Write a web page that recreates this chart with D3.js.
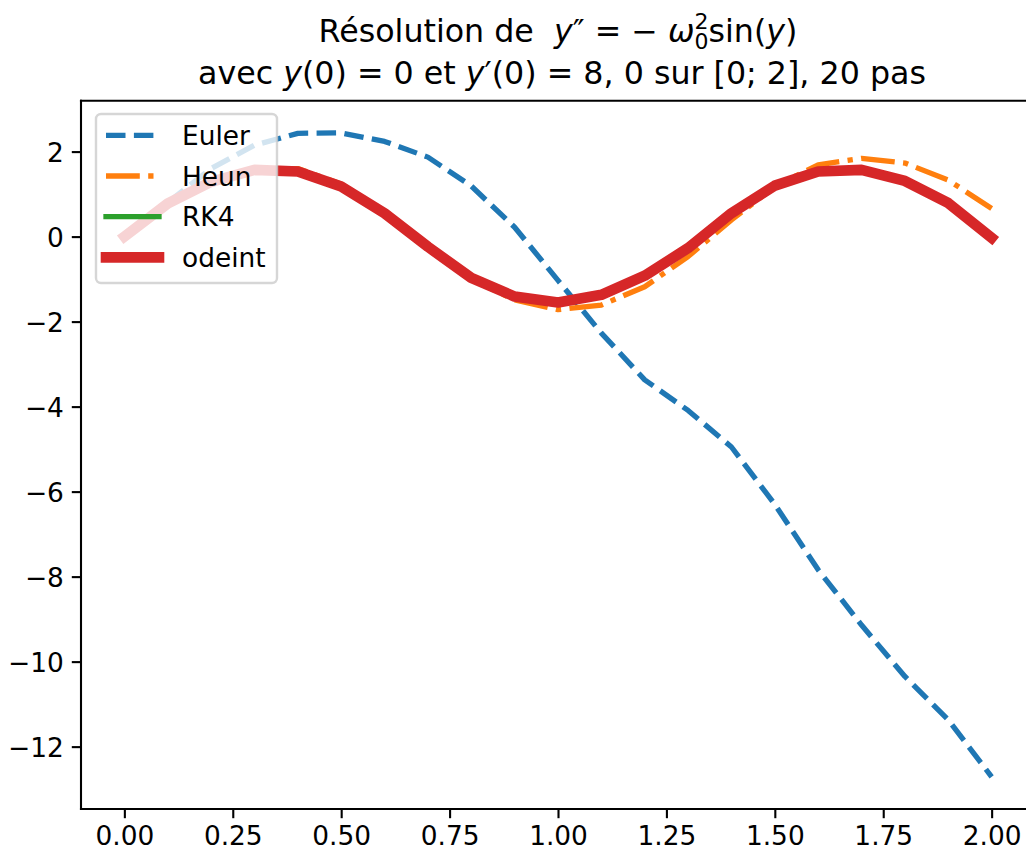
<!DOCTYPE html>
<html>
<head>
<meta charset="utf-8">
<script src="https://cdn.jsdelivr.net/npm/d3@7"></script>
<style>
  html, body { margin: 0; padding: 0; background: #fff; }
  svg { display: block; font-family: "DejaVu Sans", sans-serif; }
  .tick text { font-size: 26.4px; fill: #000; }
  .title { font-size: 31.7px; fill: #000; white-space: pre; }
  .it { font-style: italic; }
  .leg-text { font-size: 26.4px; fill: #000; }
</style>
</head>
<body>
<div id="chart"></div>
<script>
// Pendulum y'' = -w0^2 sin(y), 20 steps on [0; 2].
const tValues = [0, 0.1, 0.2, 0.3, 0.4, 0.5, 0.6, 0.7, 0.8, 0.9, 1.0,
  1.1, 1.2, 1.3, 1.4, 1.5, 1.6, 1.7, 1.8, 1.9, 2.0];
const eulerValues = [0, 0.8, 1.6, 2.15, 2.43, 2.44, 2.24, 1.87, 1.19, 0.22, -1.03,
  -2.27, -3.37, -4.09, -4.95, -6.3, -7.84, -9.14, -10.35, -11.37, -12.71];
const heunValues = [0, 0.8, 1.3, 1.58, 1.6, 1.24, 0.56, -0.25, -1.0, -1.49, -1.72,
  -1.61, -1.18, -0.47, 0.39, 1.18, 1.69, 1.84, 1.73, 1.33, 0.66];
const rk4Values = [0, 0.78, 1.29, 1.57, 1.53, 1.18, 0.55, -0.24, -0.97, -1.41, -1.55,
  -1.37, -0.92, -0.27, 0.55, 1.2, 1.53, 1.57, 1.31, 0.79, -0.03];
const odeintValues = [0, 0.78, 1.29, 1.57, 1.53, 1.18, 0.55, -0.24, -0.97, -1.41, -1.55,
  -1.37, -0.92, -0.27, 0.55, 1.2, 1.53, 1.57, 1.31, 0.79, -0.03];
const seriesNames = ["Euler", "Heun", "RK4", "odeint"];
const xTickValues = [0, 0.25, 0.5, 0.75, 1.0, 1.25, 1.5, 1.75, 2.0];
const yTickValues = [-12, -10, -8, -6, -4, -2, 0, 2];

const width = 1026, height = 856;
const m = { top: 100.7, left: 81, right: -9, bottom: 47 };
const iW = width - m.left - m.right, iH = height - m.top - m.bottom;

// matplotlib-style styling for each series (tab10 colours, px widths)
const styles = [
  { color: "#1f77b4", w: 5.3, dash: "19.5,8.4", cap: "butt" },
  { color: "#ff7f0e", w: 5.3, dash: "33.8,8.4,5.3,8.4", cap: "butt" },
  { color: "#2ca02c", w: 5.3, dash: null, cap: "square" },
  { color: "#d62728", w: 10.6, dash: null, cap: "square" },
];
const series = [eulerValues, heunValues, rk4Values, odeintValues].map((vals, i) => ({
  name: seriesNames[i], style: styles[i], pts: tValues.map((t, j) => ({ t, v: vals[j] })),
}));

// 5 % autoscale margins like matplotlib
const allV = series.flatMap((s) => s.pts.map((p) => p.v));
const [vMin, vMax] = d3.extent(allV), vPad = (vMax - vMin) * 0.05;
const [tMin, tMax] = d3.extent(tValues), tPad = (tMax - tMin) * 0.05;
const x = d3.scaleLinear([tMin - tPad, tMax + tPad], [0, iW]);
const y = d3.scaleLinear([vMin - vPad, vMax + vPad], [iH, 0]);

const svg = d3.select("#chart").append("svg").attr("width", width).attr("height", height);
svg.append("defs").append("clipPath").attr("id", "plot-clip").append("rect")
  .attr("width", iW).attr("height", iH);
const g = svg.append("g").attr("transform", `translate(${m.left},${m.top})`);

const line = d3.line().x((p) => x(p.t)).y((p) => y(p.v));
const plot = g.append("g").attr("clip-path", "url(#plot-clip)");
for (const s of series) {
  plot.append("path").datum(s.pts).attr("d", line)
    .attr("fill", "none").attr("stroke", s.style.color).attr("stroke-width", s.style.w)
    .attr("stroke-dasharray", s.style.dash).attr("stroke-linecap", s.style.cap)
    .attr("stroke-linejoin", "round");
}

// axes: matplotlib-like ticks and spines
const fmtY = (d) => (d < 0 ? "\u2212" + Math.abs(d) : String(d));
const xAxis = g.append("g").attr("transform", `translate(0,${iH})`)
  .call(d3.axisBottom(x).tickValues(xTickValues).tickFormat(d3.format(".2f")).tickSize(9.2).tickPadding(8));
const yAxis = g.append("g")
  .call(d3.axisLeft(y).tickValues(yTickValues).tickFormat(fmtY).tickSize(9.2).tickPadding(8));
for (const ax of [xAxis, yAxis]) {
  ax.select(".domain").remove();
  ax.selectAll(".tick line").attr("stroke", "#000").attr("stroke-width", 2.1);
  ax.attr("font-family", null).attr("font-size", null);
}
yAxis.selectAll(".tick text").attr("dy", "0.36em");
const spine = g.append("g").attr("stroke", "#000").attr("stroke-width", 2.1).attr("stroke-linecap", "square");
spine.append("line").attr("x1", 0).attr("x2", 0).attr("y1", 0).attr("y2", iH);
spine.append("line").attr("x1", 0).attr("x2", iW).attr("y1", iH).attr("y2", iH);
spine.append("line").attr("x1", 0).attr("x2", iW).attr("y1", 0).attr("y2", 0);
spine.append("line").attr("x1", iW).attr("x2", iW).attr("y1", 0).attr("y2", iH);

// legend (upper left, semi-transparent frame)
const leg = g.append("g").attr("transform", "translate(15,13.3)");
leg.append("rect").attr("width", 181).attr("height", 169).attr("rx", 5)
  .attr("fill", "#fff").attr("fill-opacity", 0.8)
  .attr("stroke", "#ccc").attr("stroke-opacity", 0.8).attr("stroke-width", 2.4);
series.forEach((s, i) => {
  const cy = 21.3 + i * 40.7;
  leg.append("line").attr("x1", 10).attr("x2", 63).attr("y1", cy).attr("y2", cy)
    .attr("stroke", s.style.color).attr("stroke-width", s.style.w)
    .attr("stroke-dasharray", s.style.dash).attr("stroke-linecap", s.style.cap);
  leg.append("text").attr("class", "leg-text").attr("x", 86).attr("y", cy + 9.5).text(s.name);
});

// two-line title with math
const cx = m.left + iW / 2;
const t1 = svg.append("text").attr("class", "title").attr("text-anchor", "middle").attr("x", cx).attr("y", 42);
t1.append("tspan").text("Résolution de  ");
t1.append("tspan").attr("class", "it").text("y");
t1.append("tspan").text("\u2033 = \u2212 ");
t1.append("tspan").attr("class", "it").text("\u03c9");
t1.append("tspan").attr("font-size", 22).attr("dy", -13).text("2");
t1.append("tspan").attr("font-size", 22).attr("dx", -14).attr("dy", 20).text("0");
t1.append("tspan").attr("dy", -7).text("sin(");
t1.append("tspan").attr("class", "it").text("y");
t1.append("tspan").text(")");

const t2 = svg.append("text").attr("class", "title").attr("text-anchor", "middle").attr("x", cx + 4).attr("y", 84);
t2.append("tspan").text("avec ");
t2.append("tspan").attr("class", "it").text("y");
t2.append("tspan").text("(0) = 0 et ");
t2.append("tspan").attr("class", "it").text("y");
t2.append("tspan").text("\u2032(0) = 8, 0 sur [0; 2], 20 pas");
</script>
</body>
</html>
